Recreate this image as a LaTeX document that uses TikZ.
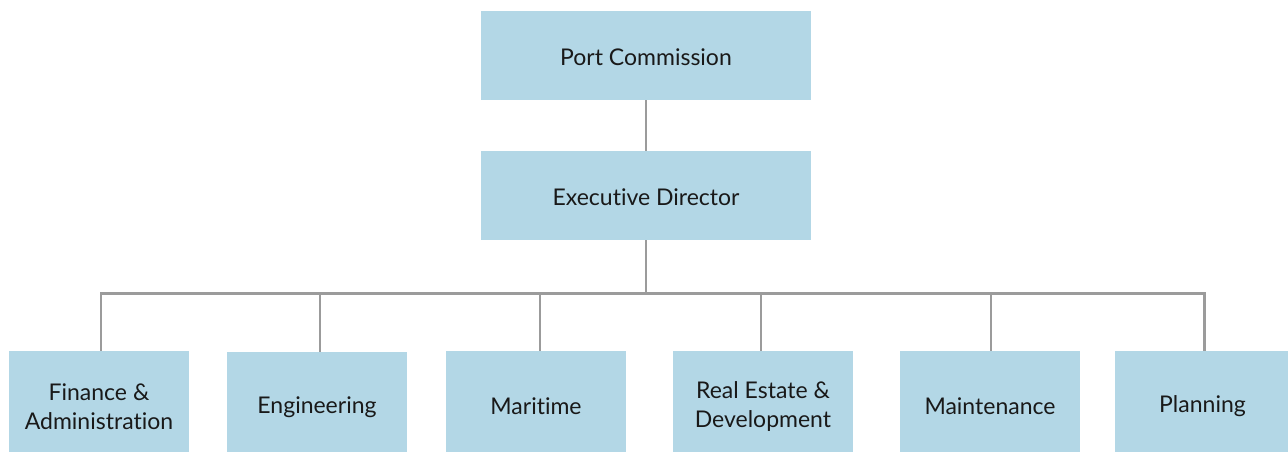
\documentclass[tikz,border=0pt]{standalone}
\usepackage{fontspec}
\setmainfont{Lato}[Ligatures={NoCommon,NoRare}]
\definecolor{boxblue}{HTML}{B3D7E6}
\definecolor{linegray}{HTML}{9B9B9B}
\begin{document}
\begin{tikzpicture}[x=1pt,y=-1pt,
  box/.style={rectangle, fill=boxblue, draw=none, inner sep=0pt},
  txt/.style={font=\fontsize{23}{29}\selectfont, text=black!90, align=center, inner sep=0pt},
  conn/.style={draw=linegray, line width=2.6pt}]
\useasboundingbox (0,0) rectangle (1288,452);
\node[box, minimum width=330, minimum height=89] (pc) at (646,55.5) {};
\node[txt] at ([yshift=-2]pc.center) {Port Commission};
\node[box, minimum width=330, minimum height=89] (ed) at (646,195.5) {};
\node[txt] at ([yshift=-2]ed.center) {Executive Director};
\node[box, minimum width=180, minimum height=101] (b1) at (99,401.5) {};
\node[box, minimum width=180, minimum height=100] (b2) at (317,402) {};
\node[box, minimum width=180, minimum height=101] (b3) at (536,401.5) {};
\node[box, minimum width=180, minimum height=101] (b4) at (763,401.5) {};
\node[box, minimum width=180, minimum height=101] (b5) at (990,401.5) {};
\node[box, minimum width=175, minimum height=101] (b6) at (1202.5,401.5) {};
\node[txt] at ([yshift=-5]b1.center) {Finance \&\\Administration};
\node[txt] at ([yshift=-5]b2.center) {Engineering};
\node[txt] at ([yshift=-5]b3.center) {Maritime};
\node[txt] at ([yshift=-5]b4.center) {Real Estate \&\\Development};
\node[txt] at ([yshift=-5]b5.center) {Maintenance};
\node[txt] at ([yshift=-5]b6.center) {Planning};
\coordinate (bus) at (646,293.5);
\draw[conn] (pc.south) -- (ed.north);
\draw[conn] (ed.south) -- (bus);
\draw[conn] ([xshift=2]b1.north) |- (bus) -| ([xshift=2]b6.north);
\draw[conn] ([xshift=3]b2.north) -- ([xshift=3]b2.north |- bus);
\draw[conn] ([xshift=4]b3.north) -- ([xshift=4]b3.north |- bus);
\draw[conn] ([xshift=-2]b4.north) -- ([xshift=-2]b4.north |- bus);
\draw[conn] ([xshift=1]b5.north) -- ([xshift=1]b5.north |- bus);
\end{tikzpicture}
\end{document}
